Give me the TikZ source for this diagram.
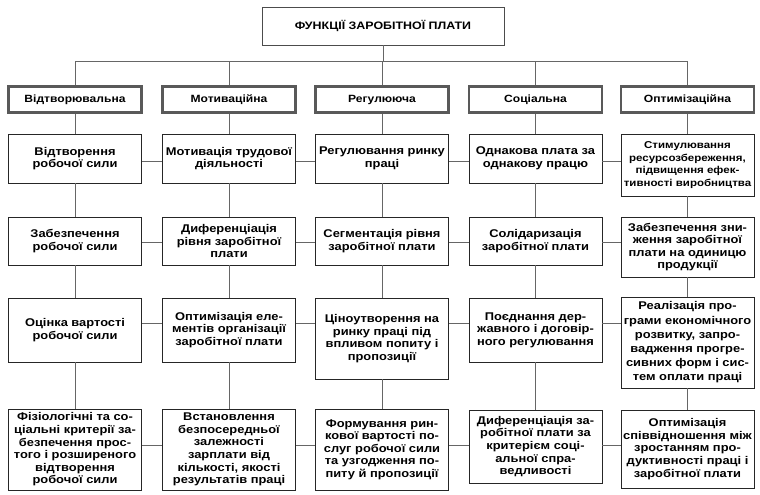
\documentclass[tikz,border=0pt]{standalone}
\usepackage{fontspec}
\setmainfont{Liberation Sans}[FakeStretch=1.15]
\begin{document}
\begin{tikzpicture}[x=1pt,y=-1pt,
  box/.style={draw=black!85, line width=0.9pt, fill=white, align=center, inner sep=1pt,
    minimum width=133pt, font=\fontsize{11.2}{12.6}\selectfont\bfseries},
  hdr/.style={draw=black!65, line width=2.2pt, fill=white, align=center, inner sep=1pt,
    minimum width=133pt, minimum height=26pt, font=\fontsize{10.5}{12}\selectfont\bfseries},
  ttl/.style={draw=black!70, line width=0.9pt, fill=white, align=center,
    minimum width=242pt, minimum height=38pt, font=\fontsize{10.8}{12}\selectfont\bfseries},
  conn/.style={draw=black!60, line width=0.9pt}]
\useasboundingbox (0,0) rectangle (760,495);
\fill[white] (0,0) rectangle (760,495);

\node[ttl] (title) at (383,26) {ФУНКЦІЇ ЗАРОБІТНОЇ ПЛАТИ};

\node[hdr] (h1) at (75,99.5) {Відтворювальна};
\node[hdr] (h2) at (229,99.5) {Мотиваційна};
\node[hdr] (h3) at (382,99.5) {Регулююча};
\node[hdr] (h4) at (535.5,99.5) {Соціальна};
\node[hdr] (h5) at (687.5,99.5) {Оптимізаційна};

% row 1
\node[box, minimum height=49pt] (a1) at (75,158.5) {Відтворення\\робочої сили};
\node[box, minimum height=49pt] (a2) at (229,158.5) {Мотивація трудової\\діяльності};
\node[box, minimum height=49pt] (a3) at (382,158.5) {Регулювання ринку\\праці};
\node[box, minimum height=49pt] (a4) at (535.5,158.5) {Однакова плата за\\однакову працю};
\node[box, minimum height=62pt, font=\fontsize{10}{12.4}\selectfont\bfseries] (a5) at (687.5,165) {Стимулювання\\ресурсозбереження,\\підвищення ефек-\\тивності виробництва};

% row 2
\node[box, minimum height=48pt] (b1) at (75,241) {Забезпечення\\робочої сили};
\node[box, minimum height=48pt] (b2) at (229,241) {Диференціація\\рівня заробітної\\плати};
\node[box, minimum height=48pt] (b3) at (382,241) {Сегментація рівня\\заробітної плати};
\node[box, minimum height=48pt] (b4) at (535.5,241) {Солідаризація\\заробітної плати};
\node[box, minimum height=60pt] (b5) at (687.5,247) {Забезпечення зни-\\ження заробітної\\плати на одиницю\\продукції};

% row 3
\node[box, minimum height=64pt] (c1) at (75,330) {Оцінка вартості\\робочої сили};
\node[box, minimum height=64pt] (c2) at (229,330) {Оптимізація еле-\\ментів організації\\заробітної плати};
\node[box, minimum height=81pt] (c3) at (382,338.5) {Ціноутворення на\\ринку праці під\\впливом попиту і\\пропозиції};
\node[box, minimum height=64pt] (c4) at (535.5,330) {Поєднання дер-\\жавного і договір-\\ного регулювання};
\node[box, minimum height=91pt, font=\fontsize{11.2}{14.2}\selectfont\bfseries] (c5) at (687.5,342.5) {Реалізація про-\\грами економічного\\розвитку, запро-\\вадження прогре-\\сивних форм і сис-\\тем оплати праці};

% row 4
\node[box, minimum height=81pt] (d1) at (75,449.5) {Фізіологічні та со-\\ціальні критерії за-\\безпечення прос-\\того і розширеного\\відтворення\\робочої сили};
\node[box, minimum height=81pt] (d2) at (229,449.5) {Встановлення\\безпосередньої\\залежності\\зарплати від\\кількості, якості\\результатів праці};
\node[box, minimum height=81pt] (d3) at (382,449.5) {Формування рин-\\кової вартості по-\\слуг робочої сили\\та узгодження по-\\питу й пропозиції};
\node[box, minimum height=73pt] (d4) at (535.5,446.5) {Диференціація за-\\робітної плати за\\критерієм соці-\\альної спра-\\ведливості};
\node[box, minimum height=78pt] (d5) at (687.5,449) {Оптимізація\\співвідношення між\\зростанням про-\\дуктивності праці і\\заробітної плати};

% connectors
\coordinate (bus) at (0,61);
\coordinate (y1) at (0,161);
\coordinate (y2) at (0,242);
\coordinate (y3) at (0,323);
\coordinate (y4) at (0,445);
\draw[conn] (title.south) -- (title.south |- bus);
\draw[conn] (h1.north |- bus) -- (h5.north |- bus);
\foreach \i in {1,...,5} {
  \draw[conn] (h\i.north) -- (h\i.north |- bus);
  \draw[conn] (h\i.south) -- (a\i.north);
  \draw[conn] (a\i.south) -- (b\i.north);
  \draw[conn] (b\i.south) -- (c\i.north);
  \draw[conn] (c\i.south) -- (d\i.north);
}
\foreach \i/\j in {1/2,2/3,3/4,4/5} {
  \draw[conn] (a\i.east |- y1) -- (a\j.west |- y1);
  \draw[conn] (b\i.east |- y2) -- (b\j.west |- y2);
  \draw[conn] (c\i.east |- y3) -- (c\j.west |- y3);
  \draw[conn] (d\i.east |- y4) -- (d\j.west |- y4);
}
\end{tikzpicture}
\end{document}
